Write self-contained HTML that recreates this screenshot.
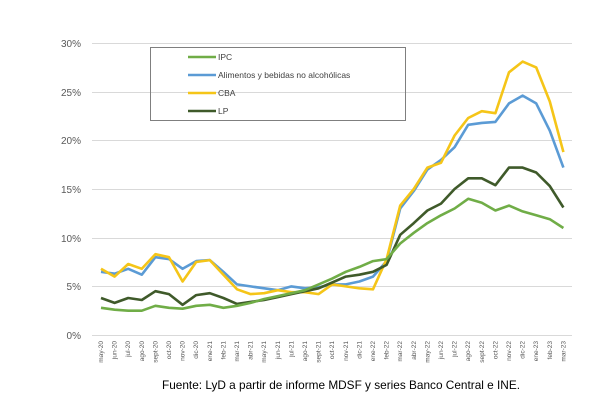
<!DOCTYPE html><html><head><style>body{margin:0;background:#fff}svg{display:block;font-family:"Liberation Sans",sans-serif}</style></head><body>
<svg width="613" height="407" xmlns="http://www.w3.org/2000/svg">
<g stroke="#d9d9d9" stroke-width="1">
<line x1="92" y1="43.5" x2="572" y2="43.5"/><line x1="92" y1="92.5" x2="572" y2="92.5"/><line x1="92" y1="140.5" x2="572" y2="140.5"/><line x1="92" y1="189.5" x2="572" y2="189.5"/><line x1="92" y1="238.5" x2="572" y2="238.5"/><line x1="92" y1="286.5" x2="572" y2="286.5"/><line x1="92" y1="335.5" x2="572" y2="335.5"/>
</g>
<g font-size="10" fill="#595959" text-anchor="end">
<text x="81" y="47">30%</text><text x="81" y="96">25%</text><text x="81" y="144">20%</text><text x="81" y="193">15%</text><text x="81" y="242">10%</text><text x="81" y="290">5%</text><text x="81" y="339">0%</text>
</g>
<g font-size="6.5" fill="#595959" text-anchor="end">
<text transform="translate(103,341) rotate(-90)">may-20</text>
<text transform="translate(116.6,341) rotate(-90)">jun-20</text>
<text transform="translate(130.2,341) rotate(-90)">jul-20</text>
<text transform="translate(143.8,341) rotate(-90)">ago-20</text>
<text transform="translate(157.4,341) rotate(-90)">sept-20</text>
<text transform="translate(171,341) rotate(-90)">oct-20</text>
<text transform="translate(184.6,341) rotate(-90)">nov-20</text>
<text transform="translate(198.2,341) rotate(-90)">dic-20</text>
<text transform="translate(211.8,341) rotate(-90)">ene-21</text>
<text transform="translate(225.4,341) rotate(-90)">feb-21</text>
<text transform="translate(239,341) rotate(-90)">mar-21</text>
<text transform="translate(252.6,341) rotate(-90)">abr-21</text>
<text transform="translate(266.2,341) rotate(-90)">may-21</text>
<text transform="translate(279.8,341) rotate(-90)">jun-21</text>
<text transform="translate(293.4,341) rotate(-90)">jul-21</text>
<text transform="translate(307,341) rotate(-90)">ago-21</text>
<text transform="translate(320.6,341) rotate(-90)">sept-21</text>
<text transform="translate(334.2,341) rotate(-90)">oct-21</text>
<text transform="translate(347.8,341) rotate(-90)">nov-21</text>
<text transform="translate(361.4,341) rotate(-90)">dic-21</text>
<text transform="translate(375,341) rotate(-90)">ene-22</text>
<text transform="translate(388.6,341) rotate(-90)">feb-22</text>
<text transform="translate(402.2,341) rotate(-90)">mar-22</text>
<text transform="translate(415.8,341) rotate(-90)">abr-22</text>
<text transform="translate(429.4,341) rotate(-90)">may-22</text>
<text transform="translate(443,341) rotate(-90)">jun-22</text>
<text transform="translate(456.6,341) rotate(-90)">jul-22</text>
<text transform="translate(470.2,341) rotate(-90)">ago-22</text>
<text transform="translate(483.8,341) rotate(-90)">sept-22</text>
<text transform="translate(497.4,341) rotate(-90)">oct-22</text>
<text transform="translate(511,341) rotate(-90)">nov-22</text>
<text transform="translate(524.6,341) rotate(-90)">dic-22</text>
<text transform="translate(538.2,341) rotate(-90)">ene-23</text>
<text transform="translate(551.8,341) rotate(-90)">feb-23</text>
<text transform="translate(565.4,341) rotate(-90)">mar-23</text>
</g>
<g fill="none" stroke-width="2.6" stroke-linejoin="round">
<polyline id="alim" stroke="#5b9bd5"/>
<polyline id="cba" stroke="#f5c518"/>
<polyline id="lp" stroke="#3f5a2a"/>
<polyline id="ipc" stroke="#70ad47"/>
</g>
<rect x="150.5" y="47.5" width="255" height="73" fill="none" stroke="#7f7f7f"/>
<g stroke-width="2.6"><line x1="188" y1="57" x2="216" y2="57" stroke="#70ad47"/><line x1="188" y1="75" x2="216" y2="75" stroke="#5b9bd5"/><line x1="188" y1="93" x2="216" y2="93" stroke="#f5c518"/><line x1="188" y1="111" x2="216" y2="111" stroke="#3f5a2a"/></g>
<g font-size="8.5" fill="#404040"><text x="218" y="60">IPC</text><text x="218" y="78">Alimentos y bebidas no alcohólicas</text><text x="218" y="96">CBA</text><text x="218" y="114">LP</text></g>
<text x="162" y="389" font-size="11.6" fill="#000" textLength="358" lengthAdjust="spacingAndGlyphs">Fuente: LyD a partir de informe MDSF y series Banco Central e INE.</text>
<script>
var D={ipc:[2.8,2.6,2.5,2.5,3.0,2.8,2.7,3.0,3.1,2.8,3.0,3.3,3.7,4.0,4.3,4.6,5.2,5.8,6.5,7.0,7.6,7.8,9.4,10.5,11.5,12.3,13.0,14.0,13.6,12.8,13.3,12.7,12.3,11.9,11.0],
alim:[6.5,6.3,6.8,6.2,8.0,7.8,6.8,7.6,7.7,6.5,5.2,5.0,4.8,4.6,5.0,4.8,4.9,5.2,5.2,5.5,6.0,7.6,13.0,14.8,17.0,18.0,19.3,21.6,21.8,21.9,23.8,24.6,23.8,21.0,17.2],
cba:[6.8,6.0,7.3,6.8,8.3,8.0,5.5,7.5,7.7,6.2,4.7,4.2,4.3,4.6,4.4,4.4,4.2,5.2,5.0,4.8,4.7,7.8,13.3,15.0,17.2,17.7,20.5,22.3,23.0,22.8,27.0,28.1,27.5,24.0,18.8],
lp:[3.8,3.3,3.8,3.6,4.5,4.2,3.1,4.1,4.3,3.8,3.2,3.4,3.6,3.9,4.2,4.5,4.8,5.4,6.0,6.2,6.5,7.2,10.3,11.5,12.8,13.5,15.0,16.1,16.1,15.4,17.2,17.2,16.7,15.3,13.1]};
function X(i){return 101+i*13.6}function Y(v){return 335-v*9.73}
for(var k in D){document.getElementById(k).setAttribute("points",D[k].map(function(v,i){return X(i).toFixed(1)+","+Y(v).toFixed(1)}).join(" "))}
</script>
</svg></body></html>
